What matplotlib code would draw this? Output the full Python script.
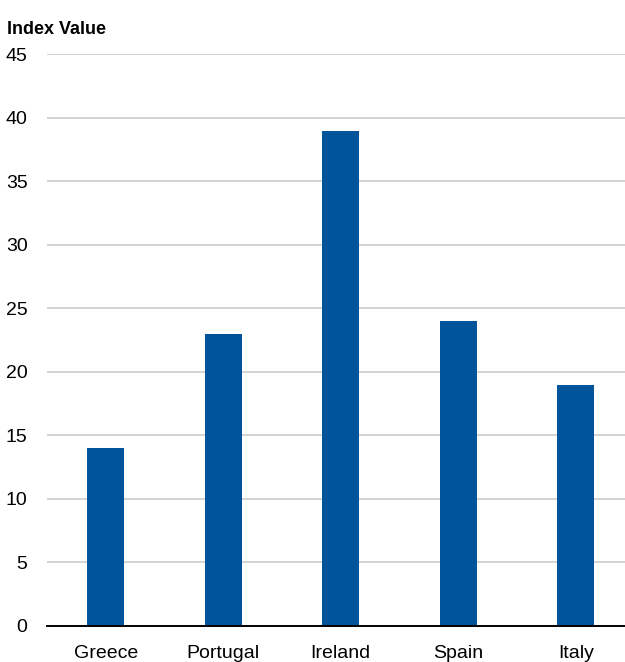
import matplotlib
matplotlib.use("Agg")
import matplotlib.pyplot as plt
from matplotlib import font_manager

# 國家與指數值
countries = ["Greece", "Portugal", "Ireland", "Spain", "Italy"]
index_values = [14, 23, 39, 24, 19]
y_ticks = [0, 5, 10, 15, 20, 25, 30, 35, 40, 45]

names = {f.name for f in font_manager.fontManager.ttflist}
family = "Liberation Sans Narrow" if "Liberation Sans Narrow" in names else "Liberation Sans"
plt.rcParams["font.family"] = [family, "DejaVu Sans"]

fig = plt.figure(figsize=(6.25, 6.62), dpi=100)
ax = fig.add_axes([0.0752, 0.0544, 0.94, 0.8636])

ax.bar(range(len(countries)), index_values, width=0.315, color="#00549A", zorder=3)

ax.set_xlim(-0.5, len(countries) - 0.5)
ax.set_ylim(0, 45)
ax.set_yticks(y_ticks)
ax.set_xticks(range(len(countries)))
ax.set_xticklabels(countries)

ax.grid(axis="y", color="#D3D3D3", linewidth=1.4, zorder=0)
for side in ["top", "right", "left"]:
    ax.spines[side].set_visible(False)
ax.spines["bottom"].set_color("black")
ax.spines["bottom"].set_linewidth(1.4)
ax.spines["bottom"].set_zorder(4)

ax.tick_params(axis="y", length=0, pad=14, labelsize=14)
ax.tick_params(axis="x", length=0, pad=14, labelsize=14)

fig.text(0.011, 0.948, "Index Value", fontsize=13, fontweight="bold", ha="left", va="baseline")

fig.savefig("out.png", dpi=100)
